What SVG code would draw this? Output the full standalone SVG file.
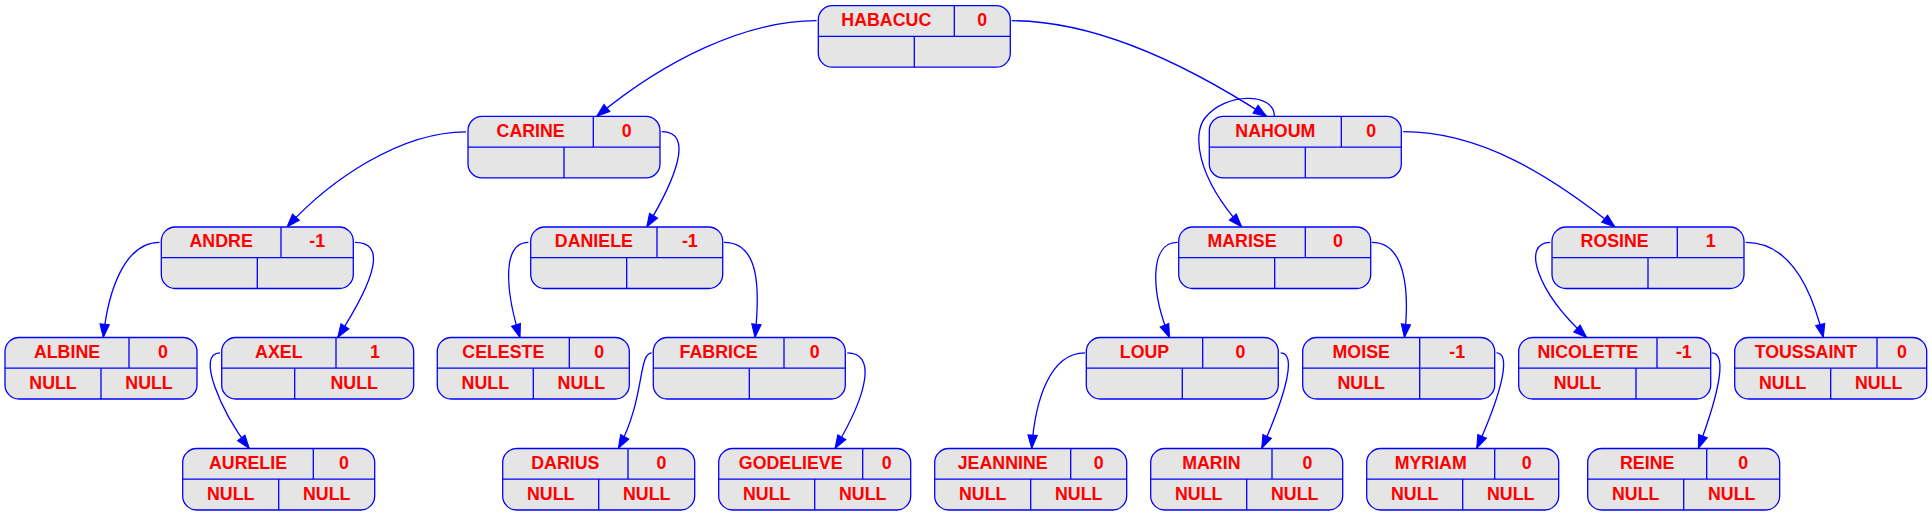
<svg xmlns="http://www.w3.org/2000/svg" width="1932" height="516" viewBox="0 0 1932 516">
<style>
.box{fill:#e5e5e5;stroke:#0000ff;stroke-width:1.3}
.ln{fill:none;stroke:#0000ff;stroke-width:1.3}
.t{font-family:"Liberation Sans",Arial,sans-serif;font-weight:bold;font-size:17.8px;fill:#ff0000;text-anchor:middle}
.e{fill:none;stroke:#0000ff;stroke-width:1.3;marker-end:url(#arr)}
</style>
<defs>
<marker id="arr" markerUnits="userSpaceOnUse" markerWidth="16" markerHeight="12" refX="13.3" refY="4.7" orient="auto" overflow="visible">
<path d="M0,0 L13.3,4.7 L0,9.4 z" fill="#0000ff" stroke="#0000ff" stroke-width="1"/>
</marker>
</defs>
<rect width="1932" height="516" fill="#ffffff"/>
<g id="connectors">
<path class="e" d="M816.5,20.7 C745,20.7 665,60 596.7,116.4"/>
<path class="e" d="M1011.7,20.7 C1090,20.7 1180,60 1266.7,116.4"/>
<path class="e" d="M1274.3,116.4 C1275,92 1225,92 1205,118 C1193,133 1195,175 1241.7,227"/>
<path class="e" d="M1403.3,131.7 C1480,131.7 1550,175 1615,227"/>
<path class="e" d="M466,131.8 C400,131.8 330,180 287,227"/>
<path class="e" d="M661.7,131.7 C695,131.7 675,180 646.7,227"/>
<path class="e" d="M159.5,242.3 C125,242.3 108,290 103.3,337.5"/>
<path class="e" d="M355,242.3 C385,242.3 378,275 337.7,337.5"/>
<path class="e" d="M528.5,242.3 C502,242.3 505,290 520,337.5"/>
<path class="e" d="M724,242.3 C760,242.3 760,290 755,337.5"/>
<path class="e" d="M1177.6,242.3 C1150,242.3 1150,290 1169.5,337.5"/>
<path class="e" d="M1372,242.3 C1405,242.3 1410,290 1404.4,337.5"/>
<path class="e" d="M1550.2,242.3 C1522,242.3 1535,290 1586.7,337.5"/>
<path class="e" d="M1745.7,242.3 C1790,242.3 1812,290 1823.3,337.5"/>
<path class="e" d="M220,352.8 C196,352.8 220,410 249.3,448.5"/>
<path class="e" d="M651.7,352.8 C638,352.8 645,400 618.3,448.5"/>
<path class="e" d="M847.3,352.8 C875,352.8 870,390 835,448.5"/>
<path class="e" d="M1085,352.8 C1050,352.8 1035,400 1031.7,448.5"/>
<path class="e" d="M1280.7,352.8 C1296,352.8 1288,390 1261.7,448.5"/>
<path class="e" d="M1496.5,352.8 C1510,352.8 1505,385 1476.7,448.5"/>
<path class="e" d="M1711.7,352.8 C1726,352.8 1722,385 1698.3,448.5"/>
</g>
<g id="HABACUC" transform="translate(818.3,5.7)"><rect class="box" width="192" height="61.5" rx="14"/><path class="ln" d="M0,30.7H192M136,0V30.7M96,30.7V61.5"/><text class="t" x="68" y="20.4">HABACUC</text><text class="t" x="164" y="20.4">0</text></g>
<g id="CARINE" transform="translate(468,116.4)"><rect class="box" width="192" height="61.5" rx="14"/><path class="ln" d="M0,30.7H192M125.3,0V30.7M96,30.7V61.5"/><text class="t" x="62.65" y="20.4">CARINE</text><text class="t" x="158.65" y="20.4">0</text></g>
<g id="NAHOUM" transform="translate(1209.3,116.4)"><rect class="box" width="192" height="61.5" rx="14"/><path class="ln" d="M0,30.7H192M132,0V30.7M96,30.7V61.5"/><text class="t" x="66" y="20.4">NAHOUM</text><text class="t" x="162" y="20.4">0</text></g>
<g id="ANDRE" transform="translate(161.3,227)"><rect class="box" width="192" height="61.5" rx="14"/><path class="ln" d="M0,30.7H192M119.7,0V30.7M96,30.7V61.5"/><text class="t" x="59.85" y="20.4">ANDRE</text><text class="t" x="155.85" y="20.4">-1</text></g>
<g id="DANIELE" transform="translate(530.7,227)"><rect class="box" width="192" height="61.5" rx="14"/><path class="ln" d="M0,30.7H192M126.3,0V30.7M96,30.7V61.5"/><text class="t" x="63.15" y="20.4">DANIELE</text><text class="t" x="159.15" y="20.4">-1</text></g>
<g id="MARISE" transform="translate(1178.7,227)"><rect class="box" width="192" height="61.5" rx="14"/><path class="ln" d="M0,30.7H192M126.6,0V30.7M96,30.7V61.5"/><text class="t" x="63.3" y="20.4">MARISE</text><text class="t" x="159.3" y="20.4">0</text></g>
<g id="ROSINE" transform="translate(1552,227)"><rect class="box" width="192" height="61.5" rx="14"/><path class="ln" d="M0,30.7H192M125.3,0V30.7M96,30.7V61.5"/><text class="t" x="62.65" y="20.4">ROSINE</text><text class="t" x="158.65" y="20.4">1</text></g>
<g id="ALBINE" transform="translate(5,337.5)"><rect class="box" width="192" height="61.5" rx="14"/><path class="ln" d="M0,30.7H192M124,0V30.7M96,30.7V61.5"/><text class="t" x="62" y="20.4">ALBINE</text><text class="t" x="158" y="20.4">0</text><text class="t" x="48" y="51.5">NULL</text><text class="t" x="144" y="51.5">NULL</text></g>
<g id="AXEL" transform="translate(221.7,337.5)"><rect class="box" width="192" height="61.5" rx="14"/><path class="ln" d="M0,30.7H192M114.3,0V30.7M73,30.7V61.5"/><text class="t" x="57.15" y="20.4">AXEL</text><text class="t" x="153.15" y="20.4">1</text><text class="t" x="132.5" y="51.5">NULL</text></g>
<g id="CELESTE" transform="translate(437.3,337.5)"><rect class="box" width="192" height="61.5" rx="14"/><path class="ln" d="M0,30.7H192M132,0V30.7M96,30.7V61.5"/><text class="t" x="66" y="20.4">CELESTE</text><text class="t" x="162" y="20.4">0</text><text class="t" x="48" y="51.5">NULL</text><text class="t" x="144" y="51.5">NULL</text></g>
<g id="FABRICE" transform="translate(653.3,337.5)"><rect class="box" width="192" height="61.5" rx="14"/><path class="ln" d="M0,30.7H192M130.7,0V30.7M96,30.7V61.5"/><text class="t" x="65.35" y="20.4">FABRICE</text><text class="t" x="161.35" y="20.4">0</text></g>
<g id="LOUP" transform="translate(1086.3,337.5)"><rect class="box" width="192" height="61.5" rx="14"/><path class="ln" d="M0,30.7H192M116.4,0V30.7M96,30.7V61.5"/><text class="t" x="58.2" y="20.4">LOUP</text><text class="t" x="154.2" y="20.4">0</text></g>
<g id="MOISE" transform="translate(1302.7,337.5)"><rect class="box" width="192" height="61.5" rx="14"/><path class="ln" d="M0,30.7H192M117,0V30.7M117,30.7V61.5"/><text class="t" x="58.5" y="20.4">MOISE</text><text class="t" x="154.5" y="20.4">-1</text><text class="t" x="58.5" y="51.5">NULL</text></g>
<g id="NICOLETTE" transform="translate(1518.7,337.5)"><rect class="box" width="192" height="61.5" rx="14"/><path class="ln" d="M0,30.7H192M138.3,0V30.7M117.3,30.7V61.5"/><text class="t" x="69.15" y="20.4">NICOLETTE</text><text class="t" x="165.15" y="20.4">-1</text><text class="t" x="58.65" y="51.5">NULL</text></g>
<g id="TOUSSAINT" transform="translate(1734.7,337.5)"><rect class="box" width="192" height="61.5" rx="14"/><path class="ln" d="M0,30.7H192M142.3,0V30.7M96,30.7V61.5"/><text class="t" x="71.15" y="20.4">TOUSSAINT</text><text class="t" x="167.15" y="20.4">0</text><text class="t" x="48" y="51.5">NULL</text><text class="t" x="144" y="51.5">NULL</text></g>
<g id="AURELIE" transform="translate(182.7,448.5)"><rect class="box" width="192" height="61.5" rx="14"/><path class="ln" d="M0,30.7H192M130.6,0V30.7M96,30.7V61.5"/><text class="t" x="65.3" y="20.4">AURELIE</text><text class="t" x="161.3" y="20.4">0</text><text class="t" x="48" y="51.5">NULL</text><text class="t" x="144" y="51.5">NULL</text></g>
<g id="DARIUS" transform="translate(502.7,448.5)"><rect class="box" width="192" height="61.5" rx="14"/><path class="ln" d="M0,30.7H192M125.3,0V30.7M96,30.7V61.5"/><text class="t" x="62.65" y="20.4">DARIUS</text><text class="t" x="158.65" y="20.4">0</text><text class="t" x="48" y="51.5">NULL</text><text class="t" x="144" y="51.5">NULL</text></g>
<g id="GODELIEVE" transform="translate(718.7,448.5)"><rect class="box" width="192" height="61.5" rx="14"/><path class="ln" d="M0,30.7H192M144,0V30.7M96,30.7V61.5"/><text class="t" x="72" y="20.4">GODELIEVE</text><text class="t" x="168" y="20.4">0</text><text class="t" x="48" y="51.5">NULL</text><text class="t" x="144" y="51.5">NULL</text></g>
<g id="JEANNINE" transform="translate(934.7,448.5)"><rect class="box" width="192" height="61.5" rx="14"/><path class="ln" d="M0,30.7H192M136,0V30.7M96,30.7V61.5"/><text class="t" x="68" y="20.4">JEANNINE</text><text class="t" x="164" y="20.4">0</text><text class="t" x="48" y="51.5">NULL</text><text class="t" x="144" y="51.5">NULL</text></g>
<g id="MARIN" transform="translate(1150.7,448.5)"><rect class="box" width="192" height="61.5" rx="14"/><path class="ln" d="M0,30.7H192M121.3,0V30.7M96,30.7V61.5"/><text class="t" x="60.65" y="20.4">MARIN</text><text class="t" x="156.65" y="20.4">0</text><text class="t" x="48" y="51.5">NULL</text><text class="t" x="144" y="51.5">NULL</text></g>
<g id="MYRIAM" transform="translate(1366.7,448.5)"><rect class="box" width="192" height="61.5" rx="14"/><path class="ln" d="M0,30.7H192M128,0V30.7M96,30.7V61.5"/><text class="t" x="64" y="20.4">MYRIAM</text><text class="t" x="160" y="20.4">0</text><text class="t" x="48" y="51.5">NULL</text><text class="t" x="144" y="51.5">NULL</text></g>
<g id="REINE" transform="translate(1587.7,448.5)"><rect class="box" width="192" height="61.5" rx="14"/><path class="ln" d="M0,30.7H192M119,0V30.7M96,30.7V61.5"/><text class="t" x="59.5" y="20.4">REINE</text><text class="t" x="155.5" y="20.4">0</text><text class="t" x="48" y="51.5">NULL</text><text class="t" x="144" y="51.5">NULL</text></g>
</svg>
